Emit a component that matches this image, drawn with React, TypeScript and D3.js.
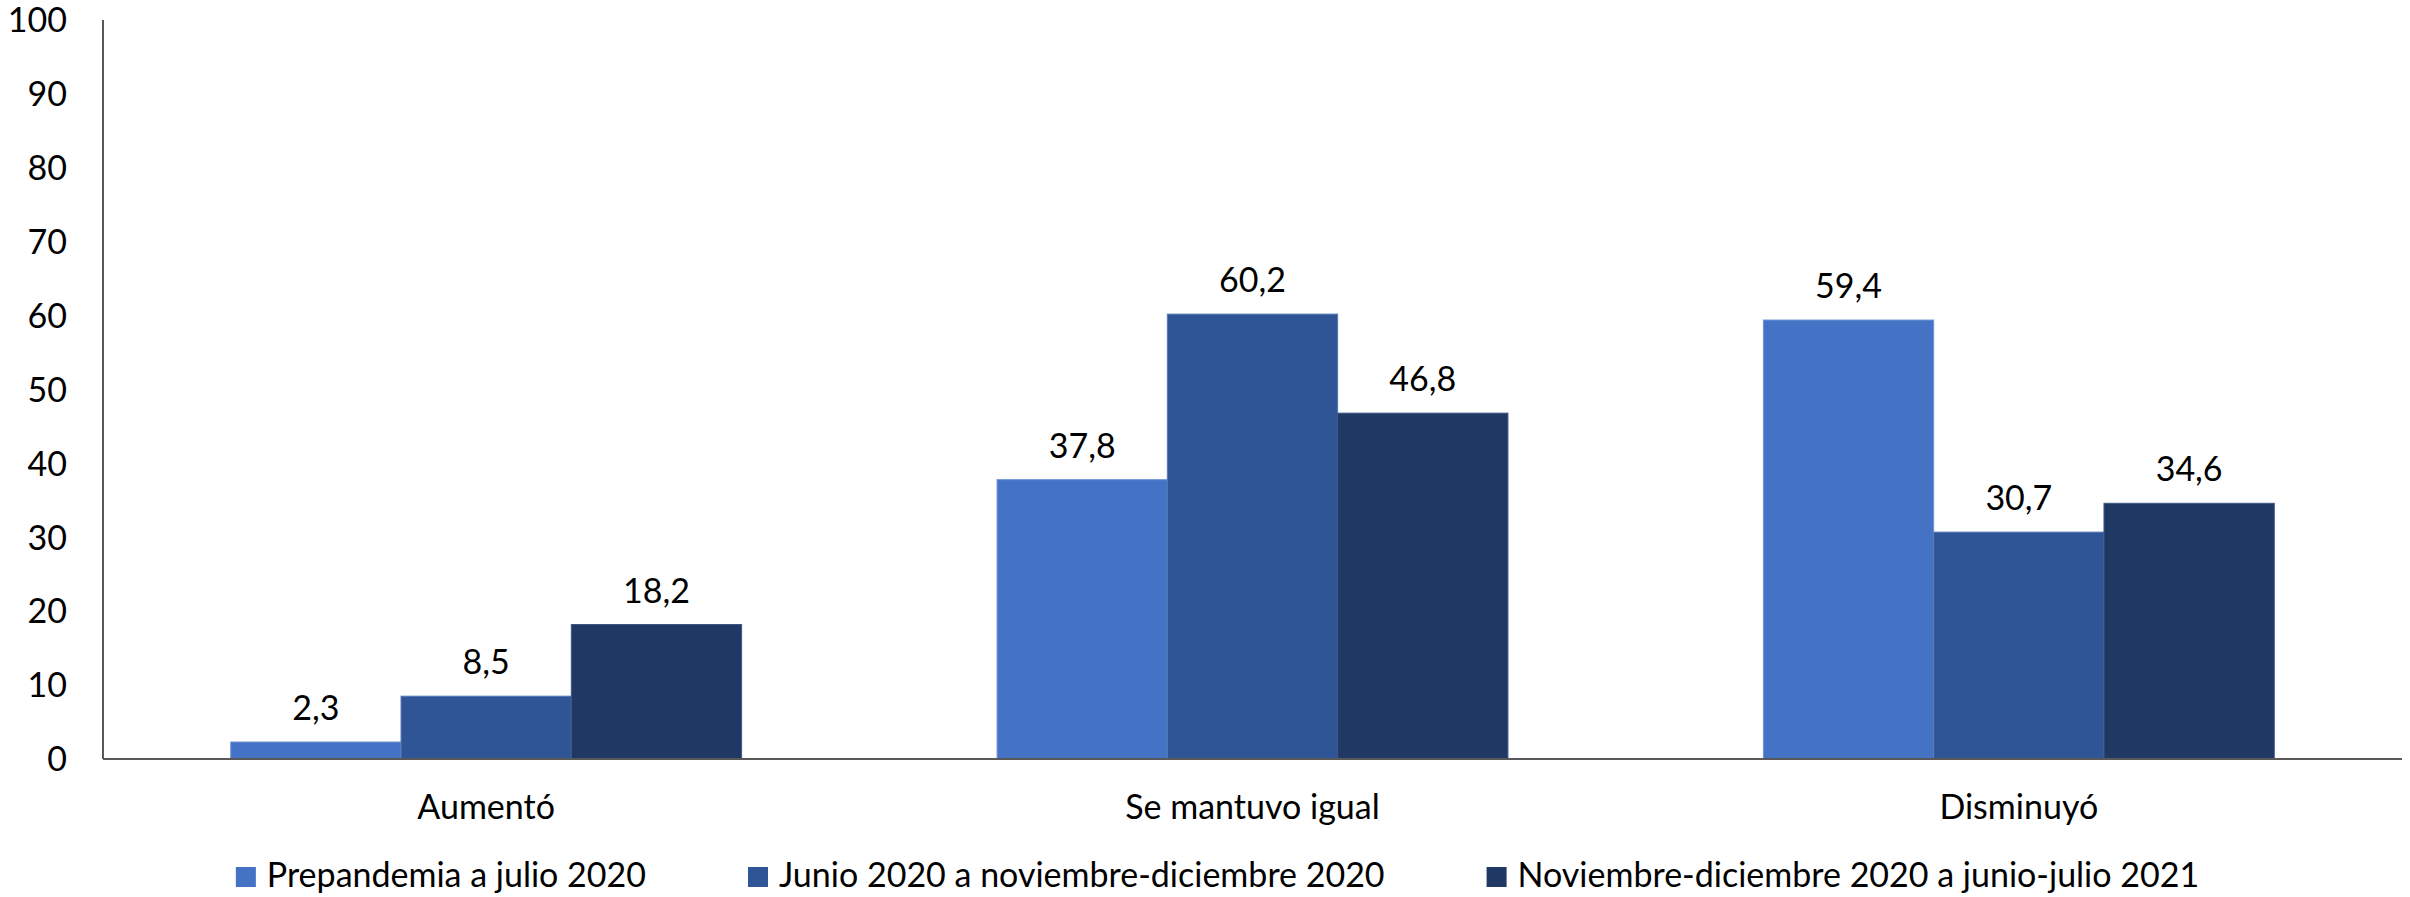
import React, { useEffect, useRef } from "react";
import * as d3 from "d3";

const categories = ["Aumentó", "Se mantuvo igual", "Disminuyó"];
const seriesNames = [
  "Prepandemia a julio 2020",
  "Junio 2020 a noviembre-diciembre 2020",
  "Noviembre-diciembre 2020 a junio-julio 2021",
];
const prepandemia = [2.3, 37.8, 59.4];
const junioNov = [8.5, 60.2, 30.7];
const novJunio = [18.2, 46.8, 34.6];
const yTicks = [0, 10, 20, 30, 40, 50, 60, 70, 80, 90, 100];

const colors = ["#4472C4", "#2F5597", "#203864"];
const strokes = ["#6f93d6", "#5579b8", "#3d5785"];

const W = 2410;
const H = 897;
const FONT = "Lato, 'Noto Sans', sans-serif";
const FS = 34;

export default function App() {
  const ref = useRef<SVGSVGElement | null>(null);

  useEffect(() => {
    document.body.style.margin = "0";
    const svg = d3.select(ref.current);
    svg.selectAll("*").remove();

    const left = 103;
    const right = 2402;
    const top = 20;
    const bottom = 759;
    const series = [prepandemia, junioNov, novJunio];

    const x0 = d3.scaleBand<string>().domain(categories).range([left, right]).paddingInner(0).paddingOuter(0);
    const bw = x0.bandwidth();
    const barW = bw / 4.5;
    const y = d3.scaleLinear().domain([0, 100]).range([bottom, top]);

    // bars
    series.forEach((vals, si) => {
      const g = svg.append("g");
      g.selectAll("rect")
        .data(vals)
        .join("rect")
        .attr("x", (_d, i) => (x0(categories[i]) as number) + barW * 0.75 + si * barW)
        .attr("y", (d) => y(d))
        .attr("width", barW)
        .attr("height", (d) => bottom - y(d))
        .attr("fill", colors[si])
        .attr("stroke", strokes[si])
        .attr("stroke-width", 1);
      g.selectAll("text")
        .data(vals)
        .join("text")
        .attr("x", (_d, i) => (x0(categories[i]) as number) + barW * 0.75 + si * barW + barW / 2)
        .attr("y", (d) => y(d) - 22)
        .attr("text-anchor", "middle")
        .attr("font-family", FONT)
        .attr("font-size", FS)
        .attr("fill", "#000")
        .text((d) => d.toFixed(1).replace(".", ","));
    });

    // axes
    const axisColor = "#595959";
    svg.append("line").attr("x1", left).attr("x2", left).attr("y1", top).attr("y2", bottom)
      .attr("stroke", axisColor).attr("stroke-width", 2);
    svg.append("line").attr("x1", left).attr("x2", right).attr("y1", bottom).attr("y2", bottom)
      .attr("stroke", axisColor).attr("stroke-width", 2);

    svg.append("g").selectAll("text").data(yTicks).join("text")
      .attr("x", 67)
      .attr("y", (d) => y(d))
      .attr("dy", "0.36em")
      .attr("text-anchor", "end")
      .attr("font-family", FONT)
      .attr("font-size", FS)
      .attr("fill", "#000")
      .text((d) => String(d));

    // category labels
    svg.append("g").selectAll("text").data(categories).join("text")
      .attr("x", (d) => (x0(d) as number) + bw / 2)
      .attr("y", 819)
      .attr("text-anchor", "middle")
      .attr("font-family", FONT)
      .attr("font-size", FS)
      .attr("fill", "#000")
      .text((d) => d);

    // legend
    const lg = svg.append("g");
    const items = seriesNames.map((name, i) => {
      const t = lg.append("text")
        .attr("y", 887)
        .attr("font-family", FONT)
        .attr("font-size", FS)
        .attr("fill", "#000")
        .text(name);
      const w = (t.node() as SVGTextElement).getComputedTextLength();
      return { t, w, i };
    });
    const sq = 20;
    const sqGap = 11;
    const itemGap = 102;
    const total = items.reduce((s, it) => s + sq + sqGap + it.w, 0) + itemGap * (items.length - 1);
    let cx = 1217.5 - total / 2;
    items.forEach((it) => {
      lg.append("rect").attr("x", cx).attr("y", 867).attr("width", sq).attr("height", sq).attr("fill", colors[it.i]);
      it.t.attr("x", cx + sq + sqGap);
      cx += sq + sqGap + it.w + itemGap;
    });
  }, []);

  return (
    <svg
      ref={ref}
      width={W}
      height={H}
      viewBox={`0 0 ${W} ${H}`}
      style={{ display: "block", background: "#fff" }}
    />
  );
}
